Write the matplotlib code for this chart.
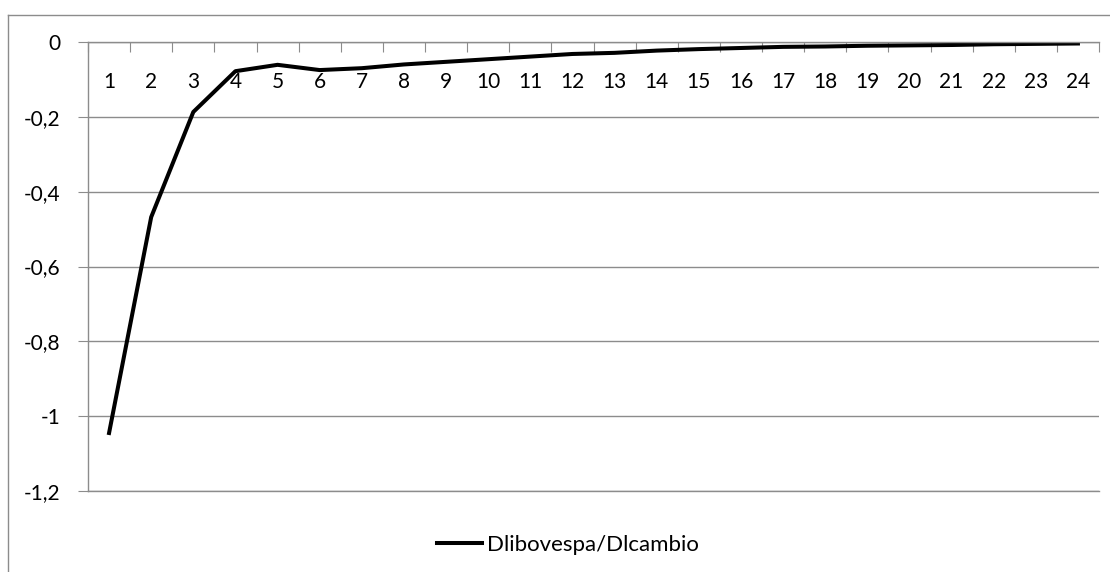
import matplotlib.pyplot as plt
from matplotlib.lines import Line2D
from matplotlib.ticker import FuncFormatter, MultipleLocator

plt.rcParams['font.family'] = ['Lato', 'DejaVu Sans']

periods = list(range(1, 25))
response = [-1.045, -0.468, -0.187, -0.078, -0.061, -0.075, -0.070, -0.060,
            -0.053, -0.046, -0.039, -0.032, -0.029, -0.023, -0.019, -0.016,
            -0.013, -0.012, -0.010, -0.009, -0.008, -0.006, -0.005, -0.004]
series_name = 'Dlibovespa/Dlcambio'

grey = '#8c8c8c'


def comma_fmt(v, pos):
    if abs(v) < 1e-9:
        return '0'
    return ('%g' % round(v, 2)).replace('.', ',')


fig = plt.figure(figsize=(11.1, 5.72), dpi=100)
ax = fig.add_axes([88/1110, 1 - 491/572, (1099 - 88)/1110, (491 - 42)/572])

ax.plot(periods, response, color='black', lw=2.9, solid_joinstyle='round',
        label=series_name)

ax.set_xlim(0.5, 24.5)
ax.set_ylim(-1.2, 0)

# y axis: gridlines every 0.2, comma decimals
ax.yaxis.set_major_locator(MultipleLocator(0.2))
ax.yaxis.set_major_formatter(FuncFormatter(comma_fmt))
ax.grid(axis='y', color=grey, lw=1)
ax.axhline(-1.2, color=grey, lw=1, clip_on=False, zorder=0.5)
ax.tick_params(axis='y', length=7, color=grey, labelsize=15, pad=13)

# x axis sits at zero (top edge), ticks between categories
ax.set_xticks([p + 0.5 for p in periods[:-1]] + [0.5, 24.5])
ax.tick_params(axis='x', bottom=False, top=True, direction='in', length=7,
               color=grey, labelbottom=False, labeltop=False)
for p in periods:
    ax.text(p, -0.107, str(p), ha='center', va='center', fontsize=15)

for side in ['right', 'bottom']:
    ax.spines[side].set_visible(False)
for side in ['left', 'top']:
    ax.spines[side].set_color(grey)
    ax.spines[side].set_linewidth(1)

fig.legend(loc='center', bbox_to_anchor=(568/1110, 1 - 545/572), frameon=False,
           fontsize=16, handlelength=2.0, handletextpad=0.25)

# outer chart frame
fig.add_artist(Line2D([8/1110, 8/1110], [0, 1 - 15/572], color=grey, lw=1))
fig.add_artist(Line2D([8/1110, 1], [1 - 15/572, 1 - 15/572], color=grey, lw=1))

fig.savefig('out.png', dpi=100)
